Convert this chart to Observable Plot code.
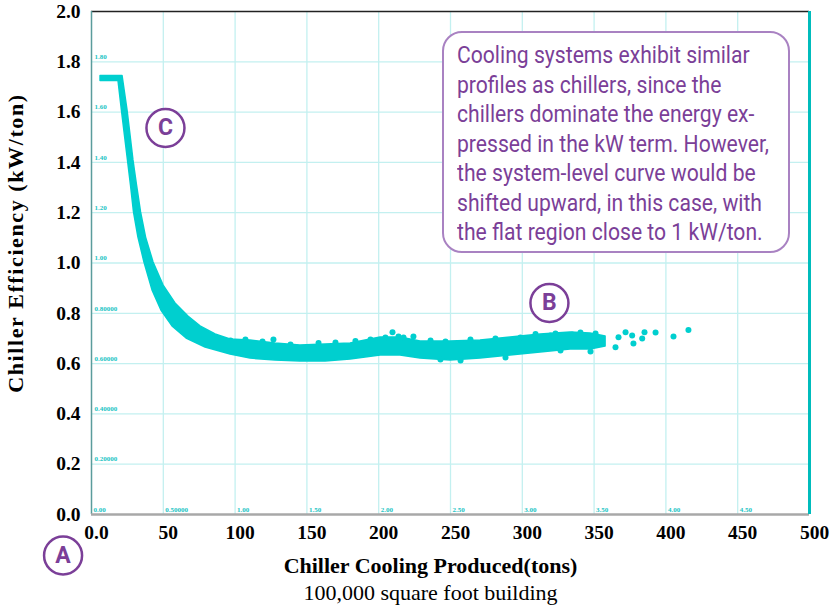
<!DOCTYPE html>
<html><head><meta charset="utf-8">
<script src="https://cdn.jsdelivr.net/npm/d3@7"></script>
<script src="https://cdn.jsdelivr.net/npm/@observablehq/plot@0.6"></script>
<style>
body{margin:0;background:#fff;}
#wrap{position:relative;width:830px;height:605px;overflow:hidden;}
#note{position:absolute;left:442px;top:31px;width:348px;height:222px;box-sizing:border-box;border:2px solid #a982c2;border-radius:20px;background:#fff;color:#7b3f98;font-family:Roboto,"Noto Sans",sans-serif;font-size:24.5px;line-height:29.5px;padding:7px 0 0 13px;white-space:nowrap;}
#noteText{display:inline-block;transform-origin:0 0;}
</style></head>
<body><div id="wrap"><div id="chart"></div><div id="note"><span id="noteText">Cooling systems exhibit similar<br>profiles as chillers, since the<br>chillers dominate the energy ex-<br>pressed in the kW term. However,<br>the system-level curve would be<br>shifted upward, in this case, with<br>the flat region close to 1 kW/ton.</span></div></div>
<script>
// axis ticks
const xTicks = [0, 50, 100, 150, 200, 250, 300, 350, 400, 450, 500];
const yTicks = [0, 0.2, 0.4, 0.6, 0.8, 1.0, 1.2, 1.4, 1.6, 1.8, 2.0];
// small inner labels of the original plot
const innerXValues = [0, 50, 100, 150, 200, 250, 300, 350, 400, 450];
const innerXLabels = ["0.00", "0.50000", "1.00", "1.50", "2.00", "2.50", "3.00", "3.50", "4.00", "4.50"];
const innerYValues = [0.2, 0.4, 0.6, 0.8, 1.0, 1.2, 1.4, 1.6, 1.8];
const innerYLabels = ["0.20000", "0.40000", "0.60000", "0.80000", "1.00", "1.20", "1.40", "1.60", "1.80"];

// dense scatter band: inner edge (xi, yi) and outer edge (xo, yo)
const bandXi = [6.3, 18.8, 21.2, 23.3, 25.4, 27.5, 29.6, 32.7, 36.9, 42.5, 48.7, 56.4, 66.2, 79.4, 96.8, 110.7, 128.1, 145.5, 163.0, 180.4, 201.3, 215.2, 229.1, 250.0, 270.9, 291.8, 312.7, 333.6, 347.5, 358.0];
const bandYi = [1.724, 1.724, 1.606, 1.506, 1.408, 1.308, 1.201, 1.101, 1.002, 0.891, 0.811, 0.748, 0.700, 0.664, 0.636, 0.620, 0.612, 0.608, 0.608, 0.616, 0.632, 0.632, 0.620, 0.612, 0.620, 0.632, 0.644, 0.656, 0.656, 0.668];
const bandXo = [6.3, 21.6, 25.1, 27.2, 29.2, 31.7, 34.5, 38.0, 43.2, 50.1, 58.5, 67.5, 75.9, 86.4, 96.8, 110.7, 128.1, 145.5, 163.0, 180.4, 201.3, 215.2, 229.1, 250.0, 270.9, 291.8, 312.7, 333.6, 347.5, 358.0];
const bandYo = [1.744, 1.744, 1.606, 1.506, 1.408, 1.308, 1.201, 1.101, 1.002, 0.911, 0.839, 0.787, 0.748, 0.716, 0.696, 0.692, 0.680, 0.672, 0.676, 0.680, 0.704, 0.704, 0.688, 0.688, 0.692, 0.704, 0.716, 0.724, 0.720, 0.708];

// individual scattered points (tons, kW/ton)
const ptX = [96.8, 107.2, 119.1, 138.6, 158.1, 169.9, 183.8, 194.3, 204.7, 213.8, 236.1, 246.5, 263.9, 281.3, 298.7, 309.2, 323.1, 340.5, 351.0,
  243.0, 257.0, 288.3, 326.6, 347.5,
  126.7, 209.6, 217.3, 224.2, 319.6, 334.7, 354.5, 364.9, 367.0, 371.9, 376.5, 377.4, 383.5, 385.1, 392.8, 405.3, 415.7];
const ptY = [0.692, 0.696, 0.688, 0.676, 0.682, 0.684, 0.690, 0.696, 0.704, 0.708, 0.692, 0.688, 0.696, 0.700, 0.704, 0.718, 0.720, 0.724, 0.720,
  0.616, 0.612, 0.624, 0.652, 0.648,
  0.696, 0.725, 0.704, 0.708, 0.712, 0.716, 0.692, 0.665, 0.705, 0.725, 0.712, 0.680, 0.700, 0.725, 0.724, 0.708, 0.734];

// annotation markers
const markLetters = ["C", "B", "A"];
const markX = [51.5, 318.9, -19.8];
const markY = [1.537, 0.841, -0.163];

const teal = "#00cfcf";
const tealText = "#19c4c4";
const grid = "#c3f0f0";
const purple = "#7b3f98";
const band = bandXi.map((d, i) => ({xi: d, yi: bandYi[i], xo: bandXo[i], yo: bandYo[i]}));
const pts = ptX.map((d, i) => ({x: d, y: ptY[i]}));
const marks = markLetters.map((d, i) => ({t: d, x: markX[i], y: markY[i]}));
const serif = "'Liberation Serif','DejaVu Serif',serif";
const yTitle = "Chiller Efficiency (kW/ton)";

const chart = Plot.plot({
  width: 830, height: 605,
  marginLeft: 91, marginRight: 21, marginTop: 11, marginBottom: 91,
  x: {domain: [0, 500]},
  y: {domain: [0, 2]},
  style: {fontFamily: serif, background: "white", overflow: "visible"},
  marks: [
    Plot.ruleX(xTicks.slice(1, -1), {stroke: grid, strokeWidth: 1.3}),
    Plot.ruleY(yTicks.slice(1, -1), {stroke: grid, strokeWidth: 1.3}),
    Plot.area(band, {x1: "xi", y1: "yi", x2: "xo", y2: "yo", fill: teal, stroke: teal, strokeWidth: 1.5}),
    Plot.dot(pts, {x: "x", y: "y", r: 3, fill: teal}),
    Plot.text(innerYLabels, {x: 0, y: (d, i) => innerYValues[i], text: d => d, dx: 3, dy: -5, textAnchor: "start", fill: tealText, fontSize: 7, fontWeight: "bold"}),
    Plot.text(innerXLabels, {x: (d, i) => innerXValues[i], y: 0, text: d => d, dx: 2, dy: -5, textAnchor: "start", fill: tealText, fontSize: 7, fontWeight: "bold"}),
    Plot.ruleY([2], {stroke: "#222", strokeWidth: 1.5}),
    Plot.ruleX([0], {stroke: "#5a9c9c", strokeWidth: 1.5}),
    Plot.ruleY([0], {stroke: "#a8a8a8", strokeWidth: 2.5}),
    Plot.ruleX([500], {stroke: "#00bcbc", strokeWidth: 3}),
    Plot.axisX(xTicks, {tickSize: 0, tickPadding: 11, dx: 5, label: null, tickFormat: d => d === 0 ? "0.0" : String(d), fontSize: 19.5, fontWeight: "bold"}),
    Plot.axisY(yTicks, {tickSize: 0, tickPadding: 11, label: null, tickFormat: d3.format(".1f"), fontSize: 19.5, fontWeight: "bold"}),
    Plot.text(["Chiller Cooling Produced(tons)"], {frameAnchor: "bottom", dx: -20, dy: 58, text: d => d, fontSize: 22, fontWeight: "bold"}),
    Plot.text(["100,000 square foot building"], {frameAnchor: "bottom", dx: -20, dy: 85, text: d => d, fontSize: 22}),
    Plot.text([yTitle], {frameAnchor: "left", textAnchor: "middle", rotate: -90, dx: -76, dy: -20, text: d => d, fontSize: 22, fontWeight: "bold"}),
    Plot.dot(marks, {x: "x", y: "y", r: 19, stroke: purple, strokeWidth: 2.5, fill: "white"}),
    Plot.text(marks, {x: "x", y: "y", text: "t", fill: purple, fontSize: 23, fontWeight: "bold", fontFamily: "Roboto, sans-serif"})
  ]
});
document.getElementById("chart").appendChild(chart);
// stretch the rotated y title like the original
d3.select(chart).selectAll("text").filter(function() { return this.textContent === yTitle; }).style("letter-spacing", "1.6px");
// condense the note text to the original line widths
const nt = document.getElementById("noteText");
const w = nt.getBoundingClientRect().width;
nt.style.transform = `scaleX(${312 / w})`;
</script>
</body></html>
